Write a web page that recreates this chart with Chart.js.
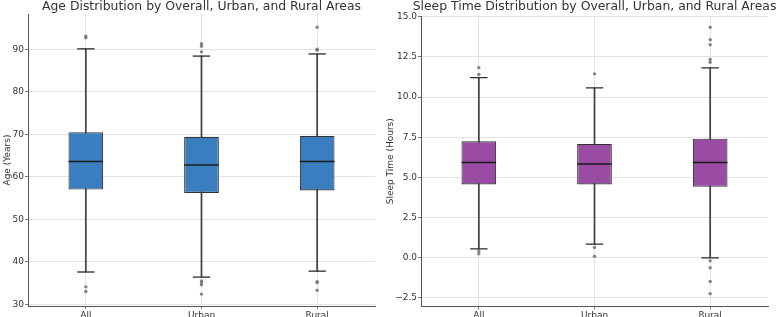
<!DOCTYPE html>
<html>
<head>
<meta charset="utf-8">
<script src="https://cdn.jsdelivr.net/npm/chart.js@4"></script>
<style>
  html, body { margin: 0; padding: 0; background: #fff; overflow: hidden; }
  #wrap { position: relative; width: 777px; height: 317px; overflow: hidden; }
  canvas { position: absolute; top: 0; }
</style>
</head>
<body>
<div id="wrap">
  <canvas id="ageChart" width="385" height="317" style="left:0"></canvas>
  <canvas id="sleepChart" width="392" height="317" style="left:385px"></canvas>
</div>
<script>
// categorias
var categories = ['All', 'Urban', 'Rural'];

// idade (anos)
var ageQ1 = [57.0, 56.2, 56.8];
var ageMedian = [63.6, 62.75, 63.6];
var ageQ3 = [70.5, 69.4, 69.6];
var ageLow = [37.6, 36.4, 37.8];
var ageHigh = [90.1, 88.4, 88.9];
var ageOutliers = [
  [93.1, 92.7, 34.1, 33.0],
  [91.3, 90.7, 89.4, 35.5, 35.1, 34.6, 32.4],
  [95.2, 90.0, 89.8, 35.3, 35.1, 33.3]
];

// sono (horas)
var sleepQ1 = [4.57, 4.57, 4.42];
var sleepMedian = [5.93, 5.84, 5.93];
var sleepQ3 = [7.25, 7.09, 7.41];
var sleepLow = [0.56, 0.85, 0.0];
var sleepHigh = [11.22, 10.58, 11.82];
var sleepOutliers = [
  [11.84, 11.41, 0.43, 0.25],
  [11.45, 0.64, 0.1],
  [14.35, 13.57, 13.26, 12.35, 12.17, -0.19, -0.62, -1.47, -2.23]
];

Chart.defaults.font.family = 'DejaVu Sans';
Chart.defaults.color = '#444';

// titulo centrado sobre a area do grafico (como no matplotlib)
var topTitle = {
  id: 'topTitle',
  afterDraw: function(chart, args, opts) {
    var ctx = chart.ctx, a = chart.chartArea;
    ctx.save();
    ctx.font = '12.4px "DejaVu Sans"';
    ctx.fillStyle = '#333';
    ctx.textAlign = 'center';
    ctx.textBaseline = 'alphabetic';
    ctx.fillText(opts.text, (a.left + a.right) / 2, 10);
    ctx.restore();
  }
};

function buildBoxChart(el, cfg) {
  var outlierPts = [];
  cfg.outliers.forEach(function(list, i) {
    list.forEach(function(v) { outlierPts.push({x: categories[i], y: v}); });
  });
  var capPts = [], medPts = [];
  categories.forEach(function(c, i) {
    capPts.push({x: c, y: cfg.low[i]});
    capPts.push({x: c, y: cfg.high[i]});
    medPts.push({x: c, y: cfg.median[i]});
  });

  new Chart(document.getElementById(el), {
    type: 'bar',
    data: {
      labels: categories,
      datasets: [{
        // bigodes
        data: categories.map(function(c, i) { return [cfg.low[i], cfg.high[i]]; }),
        backgroundColor: '#444',
        barThickness: 1.1,
        grouped: false,
        order: 4
      }, {
        // caixas
        data: categories.map(function(c, i) { return [cfg.q1[i], cfg.q3[i]]; }),
        backgroundColor: cfg.fill,
        borderColor: '#333',
        borderWidth: 1.1,
        borderSkipped: false,
        barPercentage: 0.3,
        categoryPercentage: 1,
        grouped: false,
        order: 3
      }, {
        type: 'line',
        data: capPts,
        showLine: false,
        pointStyle: 'line',
        pointRadius: 8.7,
        pointBorderWidth: 1.3,
        pointBorderColor: '#2a2a2a',
        order: 2
      }, {
        type: 'line',
        data: medPts,
        showLine: false,
        pointStyle: 'line',
        pointRadius: 17.3,
        pointBorderWidth: 1.5,
        pointBorderColor: '#1a1a1a',
        order: 1
      }, {
        type: 'line',
        data: outlierPts,
        showLine: false,
        pointRadius: 1.7,
        pointBorderWidth: 0,
        pointBackgroundColor: 'rgba(110,110,110,0.85)',
        order: 0
      }]
    },
    options: {
      responsive: false,
      animation: false,
      layout: { autoPadding: false, padding: { top: cfg.padTop, right: cfg.padRight, left: 0, bottom: 0 } },
      plugins: {
        legend: { display: false },
        tooltip: { enabled: false },
        topTitle: { text: cfg.title }
      },
      scales: {
        x: {
          offset: true,
          afterFit: function(s) {
            s.height = cfg.xHeight;
            s.paddingLeft = 0; s.paddingRight = 0;
          },
          grid: { offset: false, color: '#dcdcdc', borderDash: [2, 2], lineWidth: 0.8, tickLength: 3, tickColor: '#555', tickBorderDash: [] },
          border: { display: true, color: '#555', width: 1 },
          ticks: { padding: 1, font: { size: 9 }, color: '#333' }
        },
        y: {
          min: cfg.min,
          max: cfg.max,
          afterFit: function(s) {
            s.width = cfg.yWidth;
            s.paddingTop = 0; s.paddingBottom = 0;
          },
          grid: { color: '#dcdcdc', borderDash: [2, 2], lineWidth: 0.8, tickLength: 3, tickColor: '#555', tickBorderDash: [] },
          border: { display: true, color: '#555', width: 1 },
          title: { display: true, text: cfg.yTitle, font: { size: 9 }, color: '#333', padding: { top: cfg.titlePad, bottom: 0 } },
          ticks: {
            stepSize: cfg.step,
            includeBounds: false,
            padding: 1,
            font: { size: 9 },
            color: '#333',
            callback: cfg.fmt
          }
        }
      }
    },
    plugins: [topTitle]
  });
}

buildBoxChart('ageChart', {
  title: 'Age Distribution by Overall, Urban, and Rural Areas',
  yTitle: 'Age (Years)',
  q1: ageQ1, median: ageMedian, q3: ageQ3, low: ageLow, high: ageHigh, outliers: ageOutliers,
  fill: '#3a7ebf',
  min: 29.6, max: 98.3, step: 10,
  fmt: function(v) { return v; },
  padTop: 14, padRight: 10, yWidth: 28, xHeight: 11, titlePad: 2
});

buildBoxChart('sleepChart', {
  title: 'Sleep Time Distribution by Overall, Urban, and Rural Areas',
  yTitle: 'Sleep Time (Hours)',
  q1: sleepQ1, median: sleepMedian, q3: sleepQ3, low: sleepLow, high: sleepHigh, outliers: sleepOutliers,
  fill: '#9a4ca4',
  min: -3.03, max: 15.05, step: 2.5,
  fmt: function(v) { return v.toFixed(1).replace('-', '\u2212'); },
  padTop: 16, padRight: 9, yWidth: 36, xHeight: 10.5, titlePad: 0
});
</script>
</body>
</html>
